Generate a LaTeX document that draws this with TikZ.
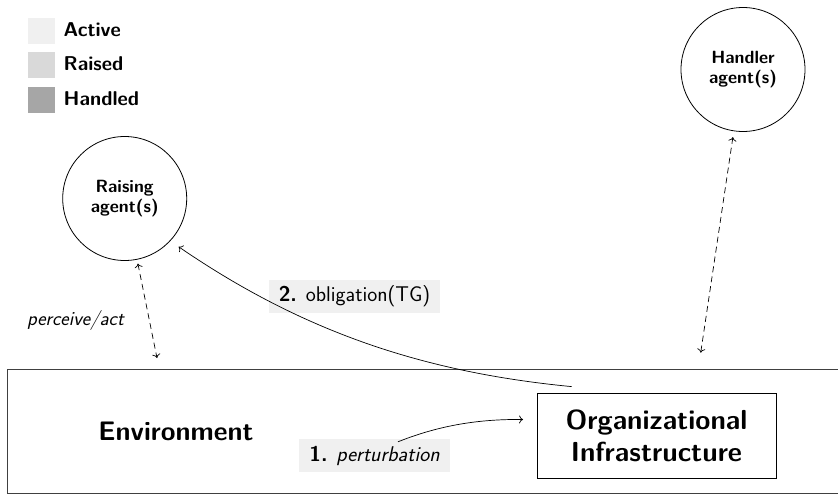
\documentclass[tikz,border=0pt]{standalone}
\usepackage{fontspec}
\usetikzlibrary{calc,arrows.meta}
\definecolor{stActive}{HTML}{F0F0F0}
\definecolor{stRaised}{HTML}{D9D9D9}
\definecolor{stHandled}{HTML}{A6A6A6}
\definecolor{tagfill}{HTML}{F0F0F0}
\tikzset{
  legendbox/.style={fill=#1, minimum width=27pt, minimum height=26pt, inner sep=0pt},
  legendtext/.style={anchor=west, inner sep=0pt, font=\sffamily\bfseries\fontsize{20}{24}\selectfont},
  agent/.style={circle, draw, line width=0.8pt, minimum size=124pt, inner sep=0pt, align=center,
    font=\sffamily\bfseries\fontsize{17.7}{20}\selectfont},
  envbox/.style={draw=black!75, line width=1pt, minimum width=843pt, minimum height=124pt, inner sep=0pt},
  orgbox/.style={draw, line width=0.8pt, minimum width=239pt, minimum height=85pt, inner sep=0pt, align=center,
    font=\sffamily\bfseries\fontsize{27.5}{32}\selectfont},
  tag/.style={fill=tagfill, inner sep=0pt, minimum height=33pt, font=\sffamily\fontsize{21.3}{24}\selectfont},
  link/.style={line width=0.7pt, -{To[length=4pt,width=8pt]}},
  biarrow/.style={line width=0.7pt, dashed, dash pattern=on 6pt off 4pt, {To[length=4pt,width=8pt]}-{To[length=4pt,width=8pt]}},
}
\begin{document}
\begin{tikzpicture}[x=1pt, y=-1pt]
  \clip (0,0) rectangle (838,495);
  \fill[white] (0,0) rectangle (838,495);

  % legend of task states
  \node[legendbox=stActive]  (lgA) at (41.5,31) {};
  \node[legendbox=stRaised]  (lgR) at (41.5,65.5) {};
  \node[legendbox=stHandled] (lgH) at (41.5,100) {};
  \node[legendtext] (lgAt) at (63.5,29.5) {Active};
  \node[legendtext] (lgRt) at (63.5,63.5) {Raised};
  \node[legendtext] (lgHt) at (63.5,98.5) {Handled};

  % environment and the organizational infrastructure inside it
  \node[envbox] (env) at (428.5,431) {};
  \node[inner sep=0pt, font=\sffamily\bfseries\fontsize{26.8}{30}\selectfont] (envlabel) at (176,431) {Environment};
  \node[orgbox] (org) at (656.5,435.5) {Organizational\\Infrastructure};

  % agents
  \node[agent] (raising) at (124.7,198.5) {Raising\\agent(s)};
  \node[agent] (handler) at (743,69.5) {Handler\\agent(s)};

  % anchor points on the environment boundary
  \coordinate (envR) at (157,358);
  \coordinate (envH) at (700.7,352.7);

  \draw[biarrow, shorten <=4pt] (raising) -- (envR);
  \draw[biarrow, shorten <=6pt] (handler) -- (envH);

  \node[inner sep=0pt, font=\sffamily\itshape\fontsize{20}{24}\selectfont] (pa) at (75.5,320) {perceive/act};

  % step labels
  \node[tag, minimum width=171pt] (obl) at (354.5,296) {\textbf{2.} obligation(TG)};
  \node[tag, minimum width=151pt] (pert) at (374.5,455.5) {\textbf{1.} \textit{perturbation}};

  % 2. obligation raised towards the raising agent
  \draw[link, shorten >=10pt] ([xshift=35pt,yshift=6pt]org.north west)
     .. controls (420,372) and (300,330) .. (raising.-43);

  % 1. perturbation from the environment
  \draw[link] ([xshift=23.5pt,yshift=-3pt]pert.north)
     .. controls (440,425) and (480,419) .. ([xshift=-13.5pt,yshift=16pt]org.west);
\end{tikzpicture}
\end{document}
